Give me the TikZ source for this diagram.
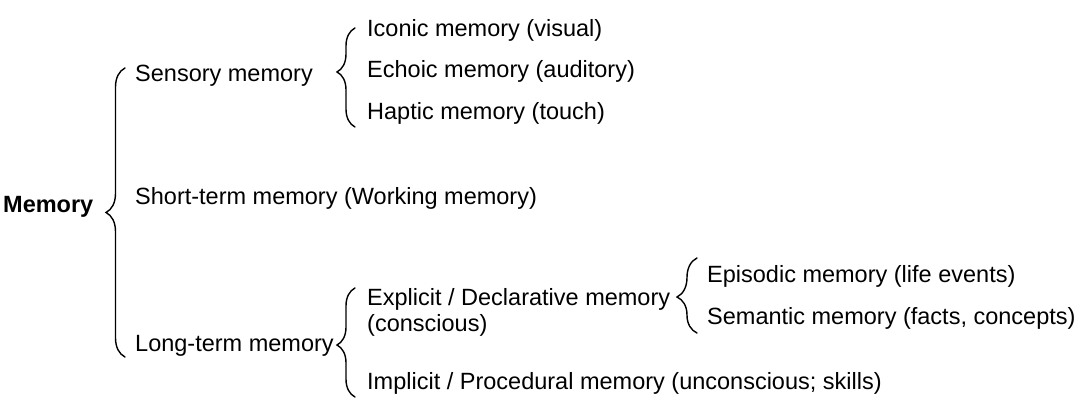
\documentclass[tikz,border=0pt]{standalone}
\usepackage{fontspec}
\setmainfont{Liberation Sans}
\usetikzlibrary{decorations.pathreplacing}
\begin{document}
\begin{tikzpicture}[x=1pt,y=-1pt,
  lbl/.style={anchor=base west, inner sep=0pt, align=left, font=\fontsize{23.5}{27}\selectfont},
  brc/.style 2 args={draw, line width=1.4pt, line cap=round, decorate, decoration={brace, amplitude=#1, aspect=#2}}]
\useasboundingbox[fill=white] (0,0) rectangle (1080,414);
% level 0
\node[lbl] (mem) at (3,213) {\textbf{Memory}};
% level 1
\node[lbl] (sens) at (135,82) {Sensory memory};
\node[lbl] (stm) at (135,205) {Short-term memory (Working memory)};
\node[lbl] (ltm) at (135,352) {Long-term memory};
% level 2
\node[lbl] (icon) at (367,37) {Iconic memory (visual)};
\node[lbl] (echo) at (367,78) {Echoic memory (auditory)};
\node[lbl] (hapt) at (367,120) {Haptic memory (touch)};
\node[lbl] (expl) at (367,332) {Explicit / Declarative memory\\(conscious)};
\node[lbl] (impl) at (367,389) {Implicit / Procedural memory (unconscious; skills)};
% level 3
\node[lbl] (epis) at (707,283) {Episodic memory (life events)};
\node[lbl] (sema) at (707,325) {Semantic memory (facts, concepts)};
% braces
\coordinate (b1t) at (125,68);  \coordinate (b1b) at (125,357);
\coordinate (b2t) at (355,28);  \coordinate (b2b) at (355,127);
\coordinate (b3t) at (355,288); \coordinate (b3b) at (355,397);
\coordinate (b4t) at (697,258); \coordinate (b4b) at (697,333);
\draw[brc={19pt}{0.5}] (b1b) -- (b1t);
\draw[brc={18pt}{0.556}] (b2b) -- (b2t);
\draw[brc={18pt}{0.477}] (b3b) -- (b3t);
\draw[brc={20pt}{0.48}] (b4b) -- (b4t);
\end{tikzpicture}
\end{document}
